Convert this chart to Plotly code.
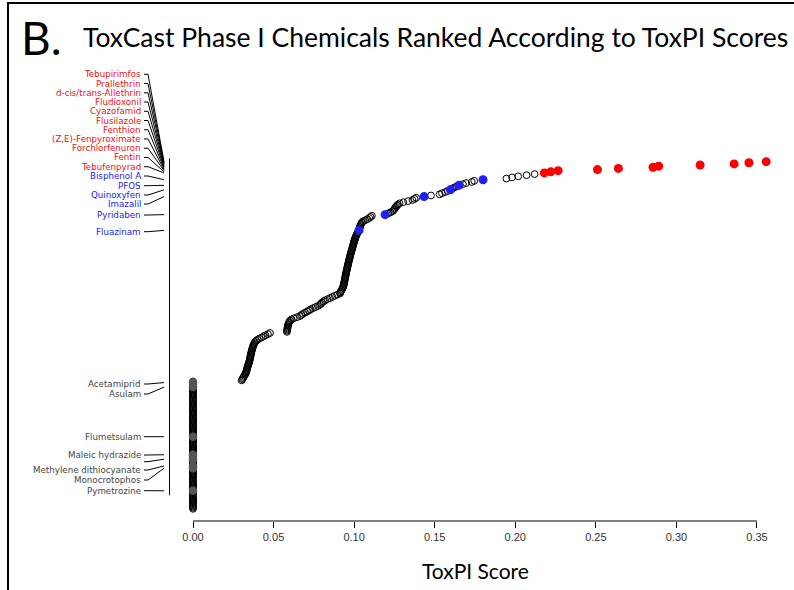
import plotly.graph_objects as go

# ---------------- data ----------------
# ToxPI scores of the 309 ToxCast Phase I chemicals, in rank order (rank 1 = highest)
scores_top = [0.3557, 0.3450, 0.3358, 0.3147, 0.2890, 0.2855, 0.2640, 0.2510, 0.2266, 0.2220, 0.2180,
              0.2120, 0.2070, 0.2018, 0.1980, 0.1945, 0.1800,
              0.1745, 0.1730, 0.1695, 0.1675, 0.1650, 0.1635, 0.1620, 0.1608, 0.1597,
              0.1580, 0.1565, 0.1545, 0.1530, 0.1477, 0.1434]
scores_mid1 = [0.1385, 0.1375, 0.1362, 0.1335, 0.1305, 0.1282, 0.1272, 0.1266, 0.1260, 0.1255,
               0.1250, 0.1245, 0.1238, 0.1225, 0.1210, 0.1192,
               0.1110, 0.1102, 0.1094, 0.1082, 0.1068, 0.1055, 0.1048, 0.1044, 0.1041, 0.1038,
               0.1036, 0.1034, 0.1032, 0.1030]
scores_mid2 = [0.1026, 0.1022, 0.1018, 0.1015, 0.1012, 0.1009, 0.1006, 0.1004, 0.1002, 0.1000,
               0.0998, 0.0996, 0.0994, 0.0992, 0.0990, 0.0988, 0.0986, 0.0984,
               0.0982, 0.0980, 0.0978, 0.0976, 0.0975, 0.0973, 0.0971, 0.0969, 0.0967, 0.0966,
               0.0964, 0.0962, 0.0961, 0.0959, 0.0958, 0.0956, 0.0955, 0.0953,
               0.0951, 0.0950, 0.0948, 0.0947, 0.0946, 0.0944, 0.0943, 0.0942, 0.0940, 0.0939,
               0.0937, 0.0936, 0.0934, 0.0932,
               0.0929, 0.0926, 0.0922, 0.0918, 0.0914]
scores_mid3 = [0.0912, 0.0895, 0.0880, 0.0865, 0.0850, 0.0835, 0.0820, 0.0810, 0.0800, 0.0795,
               0.0788, 0.0775, 0.0760, 0.0745, 0.0730, 0.0720, 0.0708, 0.0695, 0.0683, 0.0672,
               0.0664, 0.0645, 0.0625, 0.0612, 0.0603, 0.0598, 0.0595, 0.0592, 0.0590, 0.0588,
               0.0587, 0.0586, 0.0585, 0.0584, 0.0583]
scores_low = [0.0478, 0.0465, 0.0450, 0.0438, 0.0425, 0.0412, 0.0400, 0.0392, 0.0385,
              0.0381, 0.0378, 0.0375, 0.0372, 0.0370, 0.0368, 0.0366, 0.0364,
              0.0362, 0.0361, 0.0359, 0.0358, 0.0356, 0.0355, 0.0353, 0.0352, 0.0350, 0.0348,
              0.0346, 0.0343,
              0.0341, 0.0339, 0.0337, 0.0335, 0.0333, 0.0331, 0.0329, 0.0326, 0.0323,
              0.0318, 0.0314, 0.0310, 0.0306, 0.0302]
zero_count = 114
scores_zero = [0.0] * zero_count

scores = scores_top + scores_mid1 + scores_mid2 + scores_mid3 + scores_low + scores_zero
ranks = list(range(1, len(scores) + 1))

red_names = ["Tebupirimfos", "Prallethrin", "d-cis/trans-Allethrin", "Fludioxonil", "Cyazofamid",
             "Flusilazole", "Fenthion", "(Z,E)-Fenpyroximate", "Forchlorfenuron", "Fentin", "Tebufenpyrad"]
red_ranks = [1, 2, 3, 4, 5, 6, 7, 8, 9, 10, 11]
blue_names = ["Bisphenol A", "PFOS", "Quinoxyfen", "Imazalil", "Pyridaben", "Fluazinam"]
blue_ranks = [17, 22, 26, 32, 48, 62]
zero_names = ["Acetamiprid", "Asulam", "Flumetsulam", "Maleic hydrazide", "",
              "Methylene dithiocyanate", "Monocrotophos", "Pymetrozine"]
zero_ranks = [197, 201, 245, 261, 265, 271, 273, 293]

x_ticks = [0.00, 0.05, 0.10, 0.15, 0.20, 0.25, 0.30, 0.35]
x_tick_text = ["0.00", "0.05", "0.10", "0.15", "0.20", "0.25", "0.30", "0.35"]

# ---------------- layout ----------------
W, H = 794, 590
ML, MR, MT, MB = 178, 14, 60, 69
PW, PH = W - ML - MR, H - MT - MB
X_RANGE = [-0.00931, 0.36428]
Y_RANGE = [319.8, -89.2]

def px_x(px):
    return (px - ML) / PW

def px_y(py):
    return (H - MB - py) / PH

def px_rank(py):
    return Y_RANGE[1] + (py - MT) / PH * (Y_RANGE[0] - Y_RANGE[1])

label_font = "DejaVu Sans"
title_font = "Lato, Liberation Sans, sans-serif"

fig = go.Figure()

score_of = dict(zip(ranks, scores))

# all chemicals, hollow
fig.add_trace(go.Scatter(
    x=scores, y=ranks, mode="markers",
    marker=dict(symbol="circle-open", size=6.8, color="black", line=dict(width=1, color="black")),
    hoverinfo="skip", showlegend=False))

# labelled zero-score chemicals (gray)
fig.add_trace(go.Scatter(
    x=[score_of[r] for r in zero_ranks], y=zero_ranks, mode="markers",
    marker=dict(symbol="circle", size=8.5, color="#555555"),
    hoverinfo="skip", showlegend=False))
# blue
fig.add_trace(go.Scatter(
    x=[score_of[r] for r in blue_ranks], y=blue_ranks, mode="markers",
    marker=dict(symbol="circle", size=9, color="#2020f0"),
    text=blue_names, hoverinfo="text", showlegend=False))
# red
fig.add_trace(go.Scatter(
    x=[score_of[r] for r in red_ranks], y=red_ranks, mode="markers",
    marker=dict(symbol="circle", size=9, color="#ff0000"),
    text=red_names, hoverinfo="text", showlegend=False))

annotations = []
shapes = []

red_label_py = [74.3 + 9.24 * i for i in range(len(red_names))]
blue_label_py = [176, 185.7, 195, 204, 215, 231.7]
zero_label_py = [384, 394, 436.7, 455, 461.7, 470, 480, 490.7]

groups = [
    (red_names, red_ranks, red_label_py, "#f01010"),
    (blue_names, blue_ranks, blue_label_py, "#2222e8"),
    (zero_names, zero_ranks, zero_label_py, "#444444"),
]
for names, rks, lpys, col in groups:
    for name, rk, lpy in zip(names, rks, lpys):
        ly = px_rank(lpy)
        if name:
            annotations.append(dict(
                x=px_x(143), xref="paper", y=ly, yref="y", text=name, showarrow=False,
                xanchor="right", yanchor="middle",
                font=dict(family=label_font, size=8.7, color=col)))
        shapes.append(dict(
            type="path", xref="paper", yref="y",
            path=f"M {px_x(144)},{ly} L {px_x(148)},{ly} L {px_x(164)},{rk}",
            line=dict(color="black", width=1)))

# vertical bracket line
shapes.append(dict(type="line", xref="paper", yref="y",
                   x0=px_x(169.5), x1=px_x(169.5), y0=-2, y1=297,
                   line=dict(color="black", width=1)))
# x axis line from 0 to 0.35
shapes.append(dict(type="line", xref="x", yref="paper",
                   x0=x_ticks[0], x1=x_ticks[-1], y0=0, y1=0,
                   line=dict(color="black", width=1)))
# frame
shapes.append(dict(type="line", xref="paper", yref="paper",
                   x0=px_x(8), x1=px_x(8), y0=px_y(3), y1=px_y(592),
                   line=dict(color="black", width=2)))
shapes.append(dict(type="line", xref="paper", yref="paper",
                   x0=px_x(7), x1=px_x(796), y0=px_y(3), y1=px_y(3),
                   line=dict(color="black", width=2)))

annotations.append(dict(x=px_x(19), xref="paper", y=px_y(38), yref="paper",
                        text="B.", showarrow=False, xanchor="left", yanchor="middle",
                        font=dict(family=title_font, size=46, color="black")))
annotations.append(dict(x=px_x(81), xref="paper", y=px_y(37), yref="paper",
                        text="ToxCast Phase I Chemicals Ranked According to ToxPI Scores",
                        showarrow=False, xanchor="left", yanchor="middle",
                        font=dict(family=title_font, size=26.5, color="black")))
annotations.append(dict(x=0.175, xref="x", y=px_y(570), yref="paper",
                        text="ToxPI Score", showarrow=False, xanchor="center", yanchor="middle",
                        font=dict(family=title_font, size=21, color="black")))

fig.update_layout(
    width=W, height=H, margin=dict(l=ML, r=MR, t=MT, b=MB),
    paper_bgcolor="white", plot_bgcolor="white",
    showlegend=False,
    xaxis=dict(range=X_RANGE, tickvals=x_ticks, ticktext=x_tick_text,
               ticks="outside", ticklen=6, tickcolor="black", tickwidth=1,
               showline=False, showgrid=False, zeroline=False,
               tickfont=dict(family="Liberation Sans, Arial", size=11, color="#333333")),
    yaxis=dict(range=Y_RANGE, showticklabels=False, ticks="", showline=False,
               showgrid=False, zeroline=False),
    annotations=annotations, shapes=shapes,
)

fig.write_html("out.html", config={"displayModeBar": False},
               post_script="document.body.style.margin='0';document.body.style.overflow='hidden';")
